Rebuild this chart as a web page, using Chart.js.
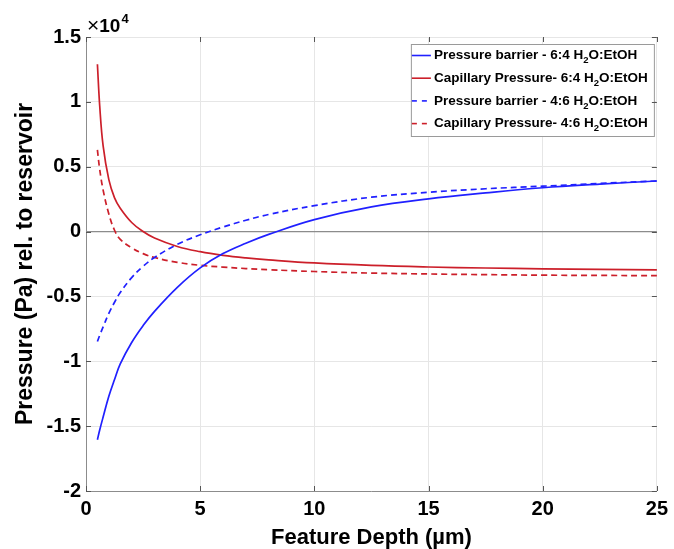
<!DOCTYPE html>
<html>
<head>
<meta charset="utf-8">
<script src="https://cdn.jsdelivr.net/npm/chart.js@4.4.0/dist/chart.umd.min.js"></script>
<style>
  html, body { margin: 0; padding: 0; background: #fff; }
  #wrap { width: 674px; height: 549px; position: relative; }
</style>
</head>
<body>
<div id="wrap"><canvas id="pressureChart"></canvas></div>
<script>
// Data (pressure in units of 10^4 Pa)
const depths = [0.5, 0.6, 0.75, 1, 1.25, 1.5, 2, 2.5, 3, 4, 5, 6, 7, 8, 10, 12.5, 15, 17.5, 20, 22.5, 25];
const barrier64   = [-1.605, -1.53, -1.43, -1.27, -1.14, -1.02, -0.855, -0.725, -0.615, -0.43, -0.28, -0.17, -0.09, -0.022, 0.092, 0.19, 0.252, 0.298, 0.338, 0.366, 0.39];
const capillary64 = [1.29, 0.97, 0.66, 0.40, 0.26, 0.18, 0.07, 0.00, -0.05, -0.115, -0.155, -0.183, -0.203, -0.218, -0.242, -0.261, -0.273, -0.281, -0.287, -0.291, -0.295];
const barrier46   = [-0.848, -0.80, -0.735, -0.63, -0.545, -0.47, -0.355, -0.268, -0.20, -0.098, -0.025, 0.035, 0.087, 0.132, 0.20, 0.265, 0.303, 0.33, 0.35, 0.371, 0.39];
const capillary46 = [0.63, 0.48, 0.32, 0.135, 0.01, -0.06, -0.125, -0.17, -0.20, -0.237, -0.26, -0.274, -0.285, -0.294, -0.308, -0.32, -0.327, -0.332, -0.336, -0.338, -0.34];

const seriesLabels = [
    'Pressure barrier - 6:4 H₂O:EtOH',
    'Capillary Pressure- 6:4 H₂O:EtOH',
    'Pressure barrier - 4:6 H₂O:EtOH',
    'Capillary Pressure- 4:6 H₂O:EtOH'
];
const xTicks = [0, 5, 10, 15, 20, 25];
const yTicks = [-2, -1.5, -1, -0.5, 0, 0.5, 1, 1.5];
const yExponent = '4';

const FONT = '"Liberation Sans", Arial, Helvetica, sans-serif';
const BLUE = '#2020ff';
const RED = '#cc1f2a';

function toPoints(values) {
    return depths.map((d, i) => ({ x: d, y: values[i] }));
}

function makeDataset(label, values, color, dashed) {
    return {
        label: label,
        data: toPoints(values),
        borderColor: color,
        backgroundColor: color,
        borderWidth: 1.7,
        borderDash: dashed ? [6, 4] : [],
        pointRadius: 0,
        tension: 0.4,
        fill: false
    };
}

// Inward tick marks on all four sides, like the original axes box
const tickMarks = {
    id: 'tickMarks',
    afterDraw(chart) {
        const { ctx, chartArea: a, scales } = chart;
        const len = 5;
        ctx.save();
        ctx.strokeStyle = '#555';
        ctx.lineWidth = 1;
        ctx.beginPath();
        yTicks.forEach(v => {
            const y = Math.round(scales.y.getPixelForValue(v)) + 0.5;
            ctx.moveTo(a.left, y); ctx.lineTo(a.left + len, y);
            ctx.moveTo(a.right, y); ctx.lineTo(a.right - len, y);
        });
        xTicks.forEach(v => {
            const x = Math.round(scales.x.getPixelForValue(v)) + 0.5;
            ctx.moveTo(x, a.bottom); ctx.lineTo(x, a.bottom - len);
            ctx.moveTo(x, a.top); ctx.lineTo(x, a.top + len);
        });
        ctx.stroke();
        ctx.restore();
    }
};

// x10^4 multiplier above the y axis
const exponentLabel = {
    id: 'exponentLabel',
    afterDraw(chart) {
        const { ctx, chartArea: a } = chart;
        ctx.save();
        ctx.fillStyle = '#000';
        ctx.textBaseline = 'alphabetic';
        let x = a.left + 1;
        const y = a.top - 5;
        ctx.font = '21px ' + FONT;
        ctx.fillText('×', x, y);
        x += ctx.measureText('×').width;
        ctx.font = 'bold 19px ' + FONT;
        ctx.fillText('10', x, y);
        x += ctx.measureText('10').width + 1;
        ctx.font = 'bold 13px ' + FONT;
        ctx.fillText(yExponent, x, y - 9);
        ctx.restore();
    }
};

function drawSubscriptText(ctx, text, x, y) {
    const parts = text.split('₂');
    ctx.font = 'bold 13.5px ' + FONT;
    ctx.fillText(parts[0], x, y);
    let w = ctx.measureText(parts[0]).width;
    if (parts.length > 1) {
        ctx.font = 'bold 9.5px ' + FONT;
        ctx.fillText('2', x + w, y + 5);
        w += ctx.measureText('2').width;
        ctx.font = 'bold 13.5px ' + FONT;
        ctx.fillText(parts[1], x + w, y);
    }
}

// Boxed legend in the upper right corner of the plot
const boxLegend = {
    id: 'boxLegend',
    afterDatasetsDraw(chart) {
        const { ctx, chartArea: a } = chart;
        const boxW = 243, boxH = 92;
        const left = a.right - boxW - 3;
        const top = a.top + 7;
        ctx.save();
        ctx.fillStyle = '#fff';
        ctx.fillRect(left, top, boxW, boxH);
        ctx.strokeStyle = '#9a9a9a';
        ctx.lineWidth = 1;
        ctx.strokeRect(left + 0.5, top + 0.5, boxW, boxH);
        ctx.textBaseline = 'middle';
        chart.data.datasets.forEach((ds, i) => {
            const y = top + 11.5 + i * 22.7;
            ctx.beginPath();
            ctx.strokeStyle = ds.borderColor;
            ctx.lineWidth = 1.6;
            ctx.setLineDash(ds.borderDash.length ? [5, 5] : []);
            ctx.moveTo(left + 1, y);
            ctx.lineTo(left + 20, y);
            ctx.stroke();
            ctx.setLineDash([]);
            ctx.fillStyle = '#000';
            drawSubscriptText(ctx, ds.label, left + 23, y);
        });
        ctx.restore();
    }
};

const ctx = document.getElementById('pressureChart').getContext('2d');

new Chart(ctx, {
    type: 'line',
    data: {
        datasets: [
            makeDataset(seriesLabels[0], barrier64, BLUE, false),
            makeDataset(seriesLabels[1], capillary64, RED, false),
            makeDataset(seriesLabels[2], barrier46, BLUE, true),
            makeDataset(seriesLabels[3], capillary46, RED, true)
        ]
    },
    options: {
        responsive: true,
        maintainAspectRatio: false,
        animation: false,
        layout: { padding: { top: 37, right: 15, left: 0, bottom: 0 } },
        plugins: {
            legend: { display: false },
            tooltip: { enabled: false }
        },
        scales: {
            x: {
                type: 'linear',
                min: 0,
                max: 25,
                afterBuildTicks: scale => { scale.ticks = xTicks.map(v => ({ value: v })); },
                afterFit: scale => { scale.height = 58; },
                ticks: {
                    color: '#000',
                    font: { family: FONT, size: 20, weight: 'bold' },
                    padding: 6,
                    maxRotation: 0,
                    callback: v => String(v)
                },
                grid: { color: '#e6e6e6', drawTicks: false },
                border: { display: true, color: '#8c8c8c', width: 1 },
                title: {
                    display: true,
                    text: 'Feature Depth (µm)',
                    color: '#000',
                    font: { family: FONT, size: 22, weight: 'bold', lineHeight: 1.0 },
                    padding: { top: 0, bottom: 0 }
                }
            },
            y: {
                type: 'linear',
                min: -2,
                max: 1.5,
                afterBuildTicks: scale => { scale.ticks = yTicks.map(v => ({ value: v })); },
                afterFit: scale => { scale.width = 86; },
                ticks: {
                    color: '#000',
                    font: { family: FONT, size: 20, weight: 'bold' },
                    padding: 5,
                    callback: v => String(Math.round(v * 10) / 10)
                },
                grid: {
                    color: c => (c.tick && c.tick.value === 0) ? '#8c8c8c' : '#e6e6e6',
                    lineWidth: c => (c.tick && c.tick.value === 0) ? 1.3 : 1,
                    drawTicks: false
                },
                border: { display: true, color: '#8c8c8c', width: 1 },
                title: {
                    display: true,
                    text: 'Pressure (Pa) rel. to reservoir',
                    color: '#000',
                    font: { family: FONT, size: 23, weight: 'bold', lineHeight: 1.0 },
                    padding: { top: 14, bottom: 0 }
                }
            }
        }
    },
    plugins: [boxLegend, tickMarks, exponentLabel]
});
</script>
</body>
</html>
